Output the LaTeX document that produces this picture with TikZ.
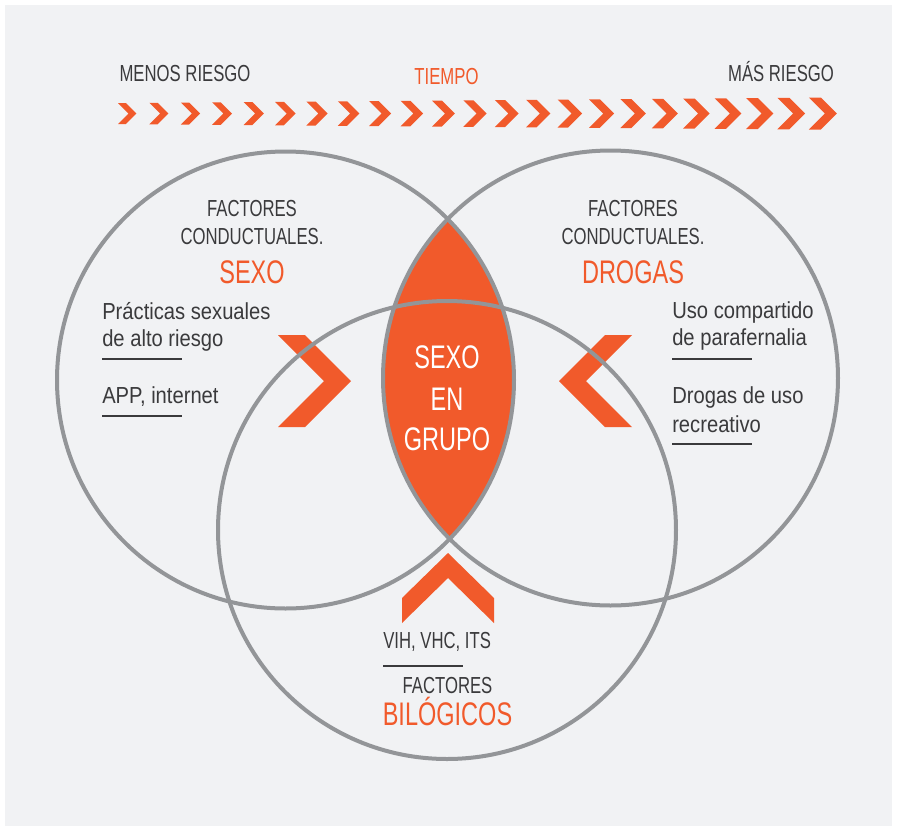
\documentclass[tikz,border=0pt]{standalone}
\usepackage{fontspec}
\setmainfont{Liberation Sans}
\newfontfamily\capsf[FakeStretch=0.72]{Liberation Sans}
\newfontfamily\bodyf[FakeStretch=0.87]{Liberation Sans}
\definecolor{orng}{HTML}{F15A2B}
\definecolor{ringgray}{HTML}{939598}
\definecolor{bggray}{HTML}{F1F2F4}
\definecolor{txt}{HTML}{3A3A3C}
\begin{document}
\begin{tikzpicture}[x=0.75pt,y=-0.75pt,
 small/.style={inner sep=0,text=txt,font=\capsf\fontsize{17.4}{20}\selectfont},
 big/.style={inner sep=0,font=\capsf\fontsize{24.5}{28}\selectfont},
 body/.style={inner sep=0,text=txt,anchor=base west,font=\bodyf\fontsize{17.4}{20}\selectfont},
 ring/.style={draw=ringgray,line width=3pt},
 uline/.style={draw=txt,line width=1pt},
 chev/.style={fill=orng}]
\useasboundingbox (0,0) rectangle (897,829);
\fill[white] (0,0) rectangle (897,829);
\fill[bggray] (5,5) rectangle (892,826);

% time chevrons
\foreach \k in {0,...,22}{
  \pgfmathsetmacro\H{21+11*\k/22}
  \pgfmathsetmacro\X{118+31.4*\k}
  \fill[chev] ({\X},{113.5-\H/2}) -- ({\X+0.38*\H},{113.5-\H/2}) -- ({\X+0.88*\H},113.5)
     -- ({\X+0.38*\H},{113.5+\H/2}) -- ({\X},{113.5+\H/2}) -- ({\X+0.5*\H},113.5) -- cycle;
}

% big chevrons
\fill[chev] (278,335) -- (305,335) -- (351,381) -- (305,427) -- (278,427) -- (324,381) -- cycle;
\fill[chev] (632,335) -- (605,335) -- (559,381) -- (605,427) -- (632,427) -- (586,381) -- cycle;
\fill[chev] (448,553) -- (494,598) -- (494,623) -- (448,578) -- (402,623) -- (402,598) -- cycle;

% lens
\begin{scope}
  \clip (285.5,380) circle[radius=228.5];
  \fill[orng] (610.5,378) circle[radius=227.5];
\end{scope}

% circles
\draw[ring] (285.5,380) circle[radius=228.5];
\draw[ring] (610.5,378) circle[radius=227.5];
\draw[ring] (447,530) circle[radius=229];

% top texts
\node[small,anchor=base] (menos) at (185,81) {MENOS RIESGO};
\node[small,anchor=base,text=orng] (tiempo) at (446.5,84) {TIEMPO};
\node[small,anchor=base] (mas) at (781,81.5) {MÁS RIESGO};

% left header
\node[small,anchor=base] (lf1) at (252,216) {FACTORES};
\node[small,anchor=base] (lf2) at (252,244) {CONDUCTUALES.};
\node[big,anchor=base,text=orng] (lsexo) at (252,283) {SEXO};

% right header
\node[small,anchor=base] (rf1) at (633,216) {FACTORES};
\node[small,anchor=base] (rf2) at (633,244) {CONDUCTUALES.};
\node[big,anchor=base,text=orng] (rdrog) at (633,283) {DROGAS};

% left body
\node[body] (l1) at (102,319) {Prácticas sexuales};
\node[body] (l2) at (102,346) {de alto riesgo};
\draw[uline] (102,359) -- (182,359);
\node[body] (l3) at (102,403) {APP, internet};
\draw[uline] (102,416) -- (182,416);

% right body
\node[body] (r1) at (672,318) {Uso compartido};
\node[body] (r2) at (672,345) {de parafernalia};
\draw[uline] (672,359) -- (752,359);
\node[body] (r3) at (672,403) {Drogas de uso};
\node[body] (r4) at (672,432) {recreativo};
\draw[uline] (672,444) -- (752,444);

% lens text
\node[big,anchor=base,text=white] (c1) at (447,368) {SEXO};
\node[big,anchor=base,text=white] (c2) at (447,410) {EN};
\node[big,anchor=base,text=white] (c3) at (447,450) {GRUPO};

% bottom
\node[small,anchor=base west] (b1) at (383,648) {VIH, VHC, ITS};
\draw[uline] (383,666) -- (463,666);
\node[small,anchor=base] (b2) at (447.5,693) {FACTORES};
\node[big,anchor=base,text=orng] (b3) at (447.5,725) {BILÓGICOS};
\end{tikzpicture}
\end{document}
